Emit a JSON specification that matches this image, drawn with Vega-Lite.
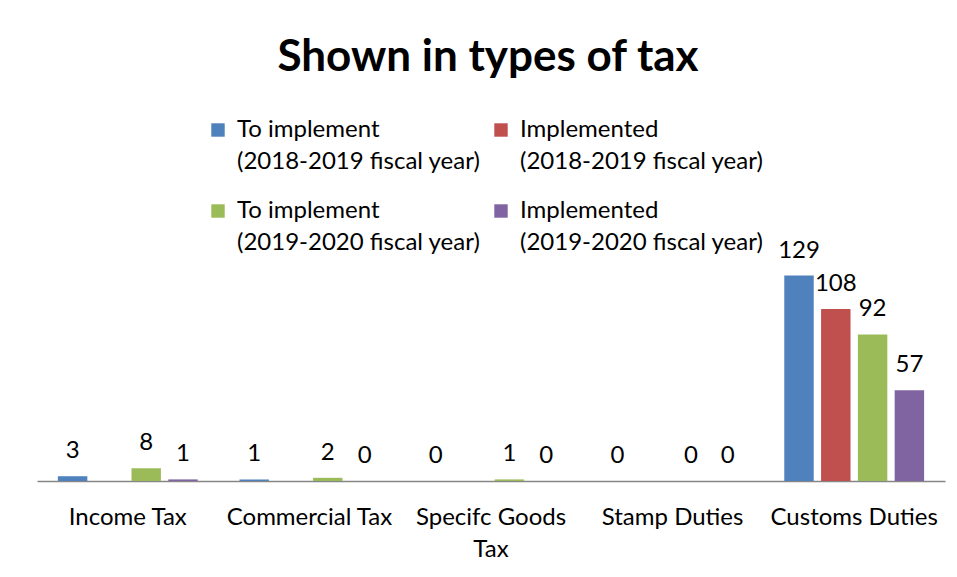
{
  "$schema": "https://vega.github.io/schema/vega-lite/v6.json",
  "width": 908,
  "height": 223,
  "autosize": "none",
  "padding": {"left": 37, "top": 258, "right": 12, "bottom": 96},
  "background": "white",
  "title": {
    "text": "Shown in types of tax",
    "font": "Lato",
    "fontSize": 44,
    "fontWeight": "bold",
    "color": "black",
    "anchor": "middle",
    "frame": "group",
    "offset": 38,
    "dx": -3
  },
  "data": {
    "values": [
      {"category": "Income Tax", "series": "To implement|(2018-2019 fiscal year)", "value": 3},
      {"category": "Income Tax", "series": "To implement|(2019-2020 fiscal year)", "value": 8},
      {"category": "Income Tax", "series": "Implemented|(2019-2020 fiscal year)", "value": 1},
      {"category": "Commercial Tax", "series": "To implement|(2018-2019 fiscal year)", "value": 1},
      {"category": "Commercial Tax", "series": "To implement|(2019-2020 fiscal year)", "value": 2},
      {"category": "Commercial Tax", "series": "Implemented|(2019-2020 fiscal year)", "value": 0},
      {"category": "Specifc Goods Tax", "series": "To implement|(2018-2019 fiscal year)", "value": 0},
      {"category": "Specifc Goods Tax", "series": "To implement|(2019-2020 fiscal year)", "value": 1},
      {"category": "Specifc Goods Tax", "series": "Implemented|(2019-2020 fiscal year)", "value": 0},
      {"category": "Stamp Duties", "series": "To implement|(2018-2019 fiscal year)", "value": 0},
      {"category": "Stamp Duties", "series": "To implement|(2019-2020 fiscal year)", "value": 0},
      {"category": "Stamp Duties", "series": "Implemented|(2019-2020 fiscal year)", "value": 0},
      {"category": "Customs Duties", "series": "To implement|(2018-2019 fiscal year)", "value": 129},
      {"category": "Customs Duties", "series": "Implemented|(2018-2019 fiscal year)", "value": 108},
      {"category": "Customs Duties", "series": "To implement|(2019-2020 fiscal year)", "value": 92},
      {"category": "Customs Duties", "series": "Implemented|(2019-2020 fiscal year)", "value": 57}
    ]
  },
  "encoding": {
    "x": {
      "field": "category",
      "type": "nominal",
      "sort": ["Income Tax", "Commercial Tax", "Specifc Goods Tax", "Stamp Duties", "Customs Duties"],
      "scale": {"paddingInner": 0.23, "paddingOuter": 0.115},
      "axis": {
        "title": null,
        "labelAngle": 0,
        "ticks": false,
        "domainColor": "#868686",
        "domainWidth": 1.5,
        "labelPadding": 36,
        "labelFont": "Lato",
        "labelFontSize": 24,
        "labelColor": "black",
        "labelLimit": 0,
        "labelBaseline": "middle",
        "labelExpr": "datum.value == 'Specifc Goods Tax' ? ['Specifc Goods', 'Tax'] : datum.value"
      }
    },
    "xOffset": {
      "field": "series",
      "type": "nominal",
      "scale": {
        "domain": ["To implement|(2018-2019 fiscal year)", "Implemented|(2018-2019 fiscal year)", "To implement|(2019-2020 fiscal year)", "Implemented|(2019-2020 fiscal year)"],
        "paddingInner": 0.2
      }
    },
    "y": {
      "field": "value",
      "type": "quantitative",
      "scale": {"domain": [0, 140]},
      "axis": null
    }
  },
  "layer": [
    {
      "mark": {"type": "bar"},
      "encoding": {
        "color": {
          "field": "series",
          "type": "nominal",
          "scale": {
            "domain": ["To implement|(2018-2019 fiscal year)", "Implemented|(2018-2019 fiscal year)", "To implement|(2019-2020 fiscal year)", "Implemented|(2019-2020 fiscal year)"],
            "range": ["#4F81BD", "#C0504D", "#9BBB59", "#8064A2"]
          },
          "legend": {
            "orient": "none",
            "legendX": 169,
            "legendY": -140,
            "direction": "horizontal",
            "columns": 2,
            "title": null,
            "symbolType": "square",
            "symbolSize": 180,
            "symbolStrokeWidth": 0,
            "labelFont": "Lato",
            "labelFontSize": 24,
            "labelColor": "black",
            "labelLimit": 0,
            "labelOffset": 7,
            "columnPadding": 8,
            "rowPadding": 25,
            "labelExpr": "split(datum.label, '|')"
          }
        }
      }
    },
    {
      "mark": {"type": "text", "baseline": "bottom", "dy": -13, "font": "Lato", "fontSize": 24, "color": "black"},
      "encoding": {"text": {"field": "value", "type": "quantitative"}}
    }
  ],
  "config": {
    "view": {"stroke": null},
    "style": {"guide-label": {"lineHeight": 32}}
  }
}
